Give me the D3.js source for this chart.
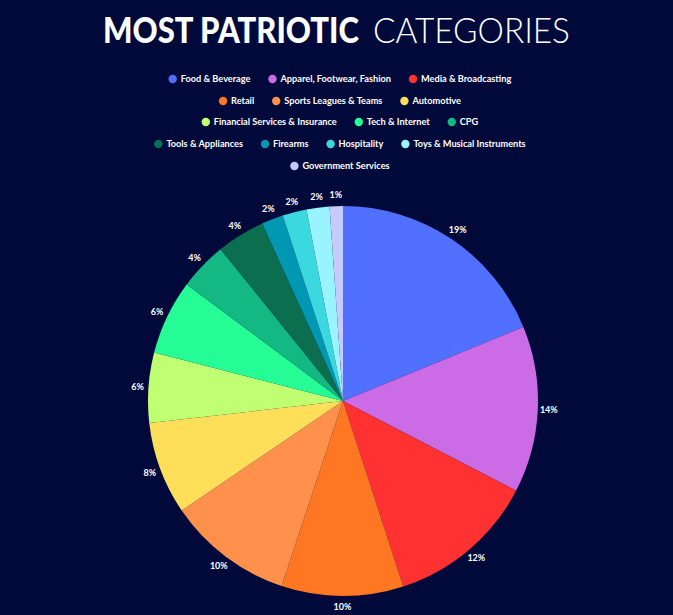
<!DOCTYPE html>
<html><head><meta charset="utf-8">
<script src="https://cdn.jsdelivr.net/npm/d3@7"></script>
<style>
html,body{margin:0;padding:0;background:#000a3a;}
svg{display:block;}
</style></head>
<body>
<svg id="chart" width="673" height="615"></svg>
<script>
const categories = ["Food & Beverage","Apparel, Footwear, Fashion","Media & Broadcasting","Retail","Sports Leagues & Teams","Automotive","Financial Services & Insurance","Tech & Internet","CPG","Tools & Appliances","Firearms","Hospitality","Toys & Musical Instruments","Government Services"];
const shares = [18.8,13.8,12.4,10.1,10.4,7.7,5.8,6.2,4.0,4.0,1.8,2.0,1.9,1.1];
const colors = ["#5170ff","#cb6ce6","#ff3131","#ff7722","#ff914d","#ffde59","#c1ff72","#26fc96","#14b883","#0b6e4f","#0097b2","#3bd8e0","#9af4ff","#c5cbfb"];
const legendRows = [3,3,3,4,1];

const svg = d3.select("#chart");
const W = 673, H = 615;
svg.append("rect").attr("width",W).attr("height",H).attr("fill","#000a3a");

// Title (two parts, horizontally condensed to the reference widths)
function titlePart(txt, weight, x, targetW){
  const t = svg.append("text").attr("x",0).attr("y",0).attr("fill","#fff")
    .style("font-family","Lato, 'Open Sans', sans-serif").style("font-size","36px").style("font-weight",weight)
    .text(txt);
  const w = t.node().getComputedTextLength();
  t.attr("transform",`translate(${x},43) scale(${targetW/w},1)`);
}
titlePart("MOST PATRIOTIC","900",103,256);
titlePart("CATEGORIES","300",373,197);

// Legend
const lg = svg.append("g");
let idx = 0;
const rowY = [79,101,122,144,166];
legendRows.forEach((n,r)=>{
  const row = lg.append("g");
  let x = 0;
  for(let k=0;k<n;k++,idx++){
    const it = row.append("g").attr("transform",`translate(${x},0)`);
    it.append("circle").attr("cx",4).attr("cy",0).attr("r",4.2).attr("fill",colors[idx]);
    const t = it.append("text").attr("x",12).attr("y",3.3).attr("fill","#fff")
      .style("font-family","Lato, sans-serif").style("font-weight","700").style("font-size","9.2px")
      .text(categories[idx]);
    x += 12 + t.node().getComputedTextLength() + 18;
  }
  const w = x - 18;
  row.attr("transform",`translate(${340 - w/2},${rowY[r]})`);
});

// Pie
const cx = 343, cy = 401, R = 195;
const pie = d3.pie().sort(null).value(d=>d);
const arcs = pie(shares);
const arc = d3.arc().innerRadius(0).outerRadius(R);
const labelArc = d3.arc().innerRadius(206).outerRadius(206);
const g = svg.append("g").attr("transform",`translate(${cx},${cy})`);
g.selectAll("path").data(arcs).join("path").attr("d",arc).attr("fill",(d,i)=>colors[i]);
const total = d3.sum(shares);
g.selectAll("text.lbl").data(arcs).join("text").attr("class","lbl")
  .attr("transform",d=>`translate(${labelArc.centroid(d)})`)
  .attr("text-anchor","middle").attr("dy","0.35em").attr("fill","#fff")
  .style("font-family","Lato, sans-serif").style("font-weight","700").style("font-size","9px")
  .text(d=>Math.round(d.data/total*100)+"%");
</script>
</body></html>
